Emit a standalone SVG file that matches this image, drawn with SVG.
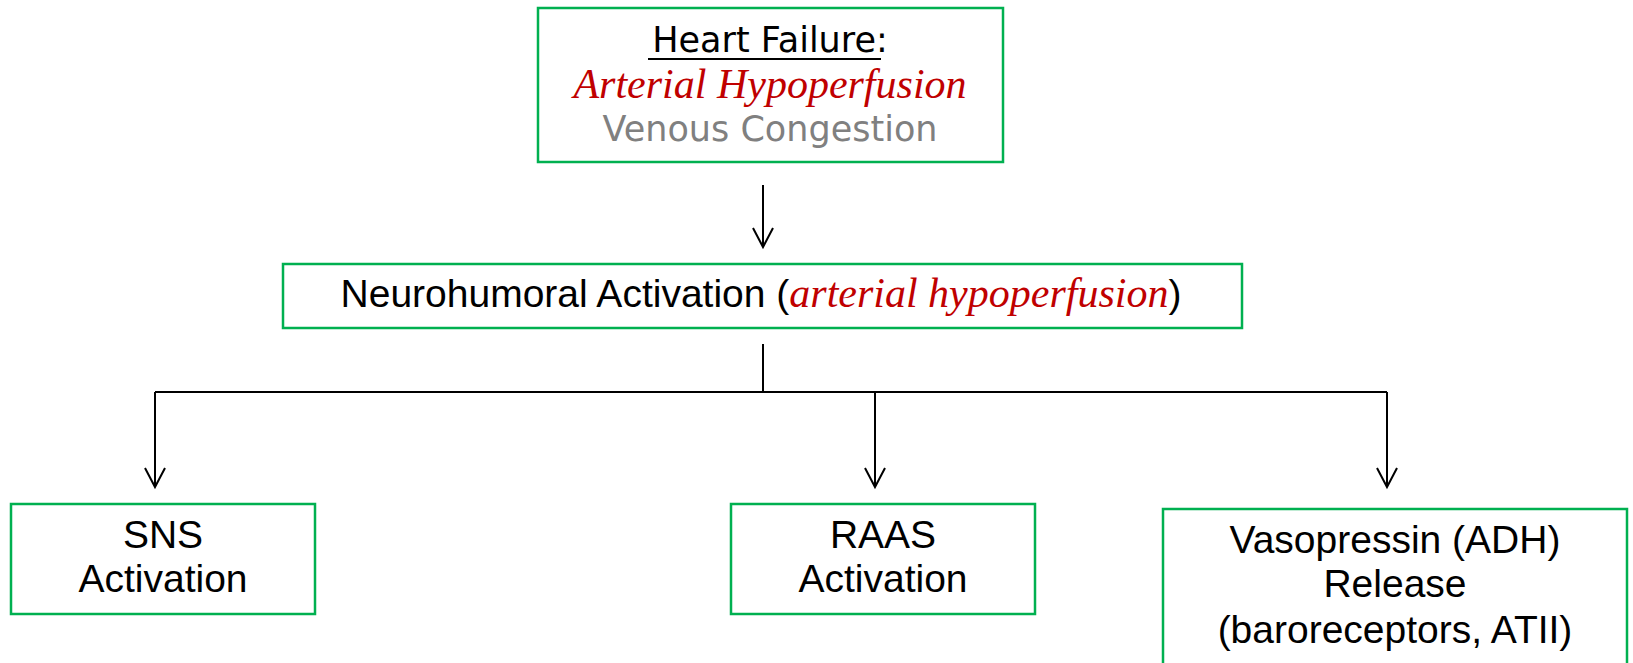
<svg xmlns="http://www.w3.org/2000/svg" width="1633" height="663" viewBox="0 0 1633 663">
  <defs>
    <marker id="vhead" markerUnits="userSpaceOnUse" markerWidth="26" markerHeight="26" viewBox="-22 -13 26 26" refX="0" refY="0" orient="auto" overflow="visible">
      <path d="M-19,-10 L0,0 L-19,10" fill="none" stroke="#000" stroke-width="2"/>
    </marker>
  </defs>
  <style>
    .box { fill: #fff; stroke: #00B050; stroke-width: 2.5; }
    .conn { fill: none; stroke: #000; stroke-width: 2; }
    .hand { font-family: "Liberation Sans", Arial, sans-serif; font-size: 39px; fill: #000; text-anchor: middle; }
    .head { font-family: "DejaVu Sans", sans-serif; font-size: 35px; fill: #000; text-anchor: middle; }
    .red { font-family: "Liberation Serif", "Times New Roman", serif; font-style: italic; fill: #C00000; }
    .grey { fill: #808080; }
  </style>
  <rect width="1633" height="663" fill="#fff"/>

  <g id="connectors">
    <path class="conn" d="M763,185 L763,247" marker-end="url(#vhead)"/>
    <path class="conn" d="M763,344 L763,392"/>
    <path class="conn" d="M155,392 L1387,392"/>
    <path class="conn" d="M155,392 L155,487" marker-end="url(#vhead)"/>
    <path class="conn" d="M875,392 L875,487" marker-end="url(#vhead)"/>
    <path class="conn" d="M1387,392 L1387,487" marker-end="url(#vhead)"/>
  </g>

  <g id="heart-failure">
    <rect class="box" x="538" y="8" width="465" height="154"/>
    <text class="head" x="770" y="52">Heart Failure:</text>
    <line x1="648" y1="59" x2="881" y2="59" stroke="#000" stroke-width="2"/>
    <text class="red" x="770" y="98" font-size="42" text-anchor="middle">Arterial Hypoperfusion</text>
    <text class="head grey" x="770" y="141" font-size="33">Venous Congestion</text>
  </g>

  <g id="neurohumoral">
    <rect class="box" x="283" y="264" width="959" height="64"/>
    <text class="hand" x="761" y="307" font-size="40">Neurohumoral Activation (<tspan class="red" font-size="42">arterial hypoperfusion</tspan>)</text>
  </g>

  <g id="sns">
    <rect class="box" x="11" y="504" width="304" height="110"/>
    <text class="hand" x="163" y="548">SNS</text>
    <text class="hand" x="163" y="592">Activation</text>
  </g>

  <g id="raas">
    <rect class="box" x="731" y="504" width="304" height="110"/>
    <text class="hand" x="883" y="548">RAAS</text>
    <text class="hand" x="883" y="592">Activation</text>
  </g>

  <g id="vasopressin">
    <rect class="box" x="1163" y="509" width="464" height="170"/>
    <text class="hand" x="1395" y="553">Vasopressin (ADH)</text>
    <text class="hand" x="1395" y="597">Release</text>
    <text class="hand" x="1395" y="643" font-size="40">(baroreceptors, ATII)</text>
  </g>
</svg>
